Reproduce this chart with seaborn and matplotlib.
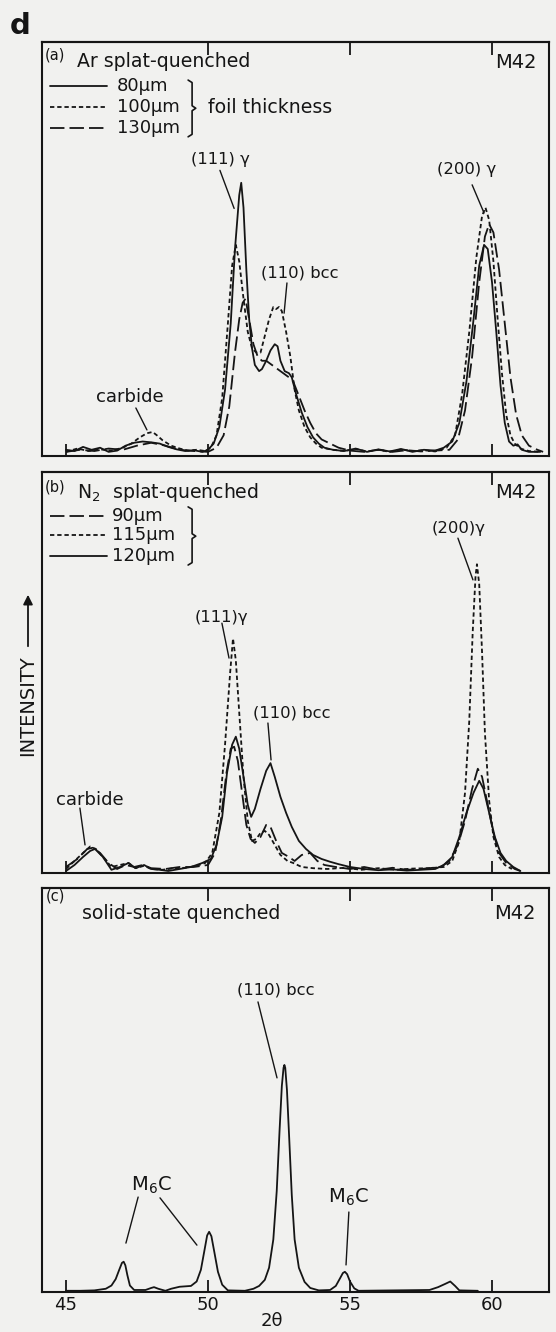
import matplotlib
matplotlib.use("Agg")
import matplotlib.pyplot as plt
from matplotlib.patches import FancyArrowPatch
import pandas as pd
import seaborn as sns

# ---------------- diffraction traces (2-theta in degrees, relative intensity) -------------
# (a) Ar splat-quenched
a80_tt = [45.0, 45.3, 45.6, 45.9, 46.2, 46.5, 46.8, 47.1, 47.4, 47.7, 48.0, 48.3, 48.6, 48.9,
          49.2, 49.5, 49.8, 50.0, 50.2, 50.4, 50.6, 50.8, 50.95, 51.1, 51.17, 51.25, 51.35,
          51.45, 51.55, 51.65, 51.8, 51.9, 52.05, 52.2, 52.35, 52.45, 52.55, 52.7, 52.85,
          52.95, 53.1, 53.3, 53.5, 53.7, 53.9, 54.1, 54.4, 54.8, 55.2, 55.6, 56.0, 56.4, 56.8,
          57.2, 57.6, 58.0, 58.3, 58.6, 58.85, 59.1, 59.35, 59.55, 59.72, 59.85, 60.0, 60.15,
          60.3, 60.45, 60.6, 60.75, 60.9, 61.05, 61.3, 61.7]
a80_i = [1.5, 1.2, 2.2, 1.5, 2.0, 1.0, 1.3, 2.5, 3.2, 3.5, 3.3, 3.0, 2.2, 1.6,
         1.2, 1.4, 1.0, 1.5, 3.0, 7.0, 16, 32, 50, 63, 66, 60, 45,
         33, 26, 22, 20.5, 21, 23, 25.5, 27, 26.5, 23, 20.5, 20,
         19, 15, 10.5, 7, 4.5, 3, 2, 1.5, 1.2, 1.8, 1.0, 1.6, 1.1, 1.7,
         1.0, 1.5, 1.3, 2.0, 3.5, 8, 18, 33, 46, 51, 50, 42, 30,
         17, 8, 3.5, 2.5, 2.8, 1.5, 1.0, 1.0]

a100_tt = [45.0, 45.4, 45.8, 46.2, 46.6, 47.0, 47.3, 47.6, 47.85, 48.05, 48.2, 48.4, 48.7,
           49.0, 49.3, 49.6, 49.9, 50.1, 50.3, 50.5, 50.7, 50.85, 50.98, 51.1, 51.25, 51.4,
           51.55, 51.7, 51.85, 52.0, 52.15, 52.3, 52.4, 52.5, 52.6, 52.75, 52.9, 53.05, 53.2,
           53.4, 53.6, 53.8, 54.0, 54.4, 54.8, 55.2, 55.6, 56.0, 56.4, 56.8, 57.2, 57.6, 58.0,
           58.4, 58.7, 58.95, 59.2, 59.45, 59.65, 59.77, 59.9, 60.05, 60.2, 60.35, 60.5, 60.65,
           60.8, 61.0, 61.3, 61.7]
a100_i = [1.0, 1.8, 1.2, 1.6, 1.3, 2.0, 3.0, 4.5, 5.5, 5.8, 5.0, 3.8, 2.5,
          1.8, 1.3, 1.5, 1.2, 2.0, 5, 14, 32, 46, 51, 47, 38, 30,
          26, 25, 25, 29, 33, 36, 35.5, 36, 35, 30, 24, 16, 11,
          7, 4.5, 3, 2, 1.5, 1.2, 1.7, 1.1, 1.5, 1.0, 1.6, 1.2, 1.4, 1.1,
          2, 5, 15, 30, 48, 58, 60, 57, 47, 33, 20, 10, 5,
          3, 1.8, 1.2, 1.0]

a130_tt = [45.0, 45.5, 46.0, 46.5, 47.0, 47.5, 48.0, 48.5, 49.0, 49.5, 50.0, 50.3, 50.55,
           50.75, 50.95, 51.1, 51.22, 51.32, 51.45, 51.6, 51.75, 51.9, 52.05, 52.25, 52.45,
           52.65, 52.85, 53.0, 53.2, 53.4, 53.6, 53.8, 54.0, 54.3, 54.6, 55.0, 55.5, 56.0,
           56.5, 57.0, 57.5, 58.0, 58.5, 58.8, 59.05, 59.3, 59.55, 59.75, 59.9, 60.05, 60.25,
           60.45, 60.65, 60.85, 61.05, 61.3, 61.6, 61.8]
a130_i = [1.0, 1.5, 1.2, 1.8, 1.5, 2.5, 3.2, 2.5, 1.5, 1.2, 1.0, 2.0, 5,
          12, 25, 33, 37, 38, 33, 27, 24, 23, 23, 22, 21,
          20, 19, 18, 14.5, 11, 8, 5.5, 4, 3, 2, 1.3, 1.0, 1.5,
          1.0, 1.4, 1.1, 1.3, 1.5, 4, 11, 24, 42, 53, 56, 54, 45,
          32, 19, 10, 5, 2.5, 1.5, 1.0]

# (b) N2 splat-quenched
b90_tt = [45.0, 45.4, 45.75, 45.95, 46.2, 46.5, 46.8, 47.1, 47.4, 47.7, 48.0, 48.5, 49.0,
          49.5, 50.0, 50.25, 50.45, 50.65, 50.8, 50.92, 51.05, 51.2, 51.35, 51.5, 51.65,
          51.85, 52.05, 52.2, 52.4, 52.6, 52.85, 53.05, 53.3, 53.6, 53.85, 54.1, 54.5, 55.0,
          55.5, 56.0, 56.5, 57.0, 57.5, 58.2, 58.5, 58.8, 59.05, 59.3, 59.5, 59.65, 59.85,
          60.05, 60.25, 60.5, 60.8, 61.0]
b90_i = [1.5, 3.5, 6.0, 6.3, 5.0, 2.5, 1.0, 2.0, 1.5, 2.0, 1.2, 1.0, 1.5,
         1.5, 2.0, 5, 13, 25, 31, 31.5, 28, 20, 12, 8.5, 7.5,
         9, 12, 11.5, 8, 5, 4, 3, 4.5, 5, 3, 2, 1.5, 1.0,
         1.5, 0.8, 1.3, 0.8, 1.0, 1.5, 3, 7, 13, 21, 26, 24, 17,
         10, 5, 2.5, 1.0, 0.5]

b115_tt = [45.0, 45.3, 45.6, 45.85, 46.05, 46.3, 46.6, 46.9, 47.2, 47.45, 47.75, 48.0, 48.4,
           48.8, 49.2, 49.6, 49.9, 50.15, 50.4, 50.6, 50.78, 50.88, 50.98, 51.1, 51.25, 51.4,
           51.55, 51.7, 51.85, 52.0, 52.15, 52.35, 52.55, 52.8, 53.0, 53.3, 53.7, 54.2, 54.8,
           55.4, 56.0, 56.6, 57.2, 57.8, 58.3, 58.6, 58.85, 59.05, 59.2, 59.32, 59.42, 59.47,
           59.55, 59.65, 59.75, 59.9, 60.05, 60.25, 60.45, 60.7]
b115_i = [1.0, 3.0, 5.0, 6.6, 6.0, 4.0, 1.5, 2.0, 2.5, 1.2, 1.8, 1.0, 0.8,
          1.2, 1.3, 1.8, 2.5, 5, 15, 32, 50, 58.5, 53, 40, 24, 13,
          8, 8.5, 10, 10.5, 9.5, 7, 4.5, 3, 2.5, 1.5, 1.2, 1.0, 1.3,
          0.8, 1.2, 0.8, 1.1, 1.2, 1.5, 3, 8, 20, 38, 60, 74, 77,
          72, 55, 35, 18, 9, 4, 2, 1.0]

b120_tt = [45.0, 45.3, 45.6, 45.85, 46.02, 46.3, 46.6, 46.9, 47.2, 47.45, 47.75, 48.0, 48.3,
           48.6, 49.0, 49.4, 49.8, 50.1, 50.3, 50.5, 50.67, 50.85, 50.98, 51.1, 51.25, 51.4,
           51.52, 51.65, 51.85, 52.05, 52.2, 52.35, 52.55, 52.75, 52.95, 53.2, 53.45, 53.7,
           54.0, 54.3, 54.6, 55.0, 55.5, 56.0, 56.5, 57.0, 57.5, 58.0, 58.3, 58.6, 58.85,
           59.1, 59.35, 59.55, 59.7, 59.9, 60.1, 60.3, 60.5, 60.75, 61.0]
b120_i = [0.5, 2.0, 4.0, 5.5, 6.0, 4.0, 0.8, 1.5, 2.5, 1.2, 2.0, 1.0, 0.8,
          0.5, 1.0, 1.5, 2.5, 3.5, 7, 14, 25, 32, 34, 31, 24, 17,
          14, 16, 21, 25.5, 27.4, 24, 19, 15, 11.5, 8, 6, 4.5,
          3.5, 2.8, 2.2, 1.5, 1.0, 0.7, 0.9, 0.6, 0.8, 1.0, 2.0, 4, 9,
          15, 20, 23, 21, 15, 9, 5, 3, 1.5, 0.5]

# (c) solid-state quenched
c_tt = [45.0, 45.5, 46.0, 46.4, 46.6, 46.75, 46.88, 46.97, 47.03, 47.09, 47.16, 47.25, 47.4,
        47.8, 48.0, 48.1, 48.25, 48.5, 48.7, 49.0, 49.4, 49.6, 49.75, 49.88, 49.97, 50.04,
        50.12, 50.22, 50.35, 50.5, 50.7, 51.3, 51.6, 51.8, 52.0, 52.15, 52.3, 52.42, 52.52,
        52.6, 52.66, 52.69, 52.72, 52.78, 52.86, 52.95, 53.05, 53.2, 53.4, 53.6, 53.9, 54.3,
        54.5, 54.65, 54.75, 54.82, 54.9, 55.0, 55.15, 55.3, 57.8, 58.1, 58.35, 58.53, 58.7,
        58.85, 59.5]
c_i = [0.3, 0.3, 0.4, 0.8, 1.6, 3.2, 5.6, 7.2, 7.5, 6.6, 4.2, 1.6, 0.5,
       0.5, 1.0, 1.2, 0.8, 0.3, 0.8, 1.3, 1.5, 2.6, 5.5, 10.5, 14.0, 14.9,
       13.8, 10.0, 5.0, 1.8, 0.4, 0.3, 0.8, 1.5, 3.0, 6.0, 13, 25, 40,
       51, 55.5, 56.2, 55.5, 50, 38, 24, 13, 6.0, 2.5, 1.0, 0.4, 0.5,
       1.5, 3.4, 4.7, 5.0, 4.4, 2.6, 0.9, 0.3, 0.5, 1.2, 2.0, 2.6, 1.5,
       0.4, 0.3]

a_labels = ["80\u00b5m", "100\u00b5m", "130\u00b5m"]
b_labels = ["90\u00b5m", "115\u00b5m", "120\u00b5m"]
x_ticks = [45, 50, 55, 60]

# ---------------- styling ----------------
INK = "#151515"
PAPER = "#f1f1ef"
SOLID = ""
FINE = (2.4, 1.6)     # short-dash trace
LONG = (8.0, 2.8)     # long-dash trace

sns.set_theme(style="white")
plt.rcParams["font.family"] = ["DejaVu Sans"]
plt.rcParams["axes.edgecolor"] = INK
plt.rcParams["text.color"] = INK

fig = plt.figure(figsize=(5.56, 13.32), dpi=100, facecolor=PAPER)
left, width = 42 / 556, 507 / 556
ax_a = fig.add_axes([left, 1 - 456 / 1332, width, 414 / 1332])
ax_b = fig.add_axes([left, 1 - 873 / 1332, width, 401 / 1332])
ax_c = fig.add_axes([left, 1 - 1292 / 1332, width, 404 / 1332])


def long_form(curves):
    return pd.concat(
        [pd.DataFrame({"two_theta": tt, "intensity": ii, "foil": lab}) for lab, tt, ii in curves],
        ignore_index=True)


def draw_traces(ax, df, dash_map):
    sns.lineplot(data=df, x="two_theta", y="intensity", hue="foil", style="foil",
                 palette={k: INK for k in dash_map}, dashes=dash_map,
                 estimator=None, sort=True, legend=False, lw=1.3, ax=ax)


dash_a = {a_labels[0]: SOLID, a_labels[1]: FINE, a_labels[2]: LONG}
dash_b = {b_labels[0]: LONG, b_labels[1]: FINE, b_labels[2]: SOLID}

draw_traces(ax_a, long_form([(a_labels[0], a80_tt, a80_i),
                             (a_labels[1], a100_tt, a100_i),
                             (a_labels[2], a130_tt, a130_i)]), dash_a)
draw_traces(ax_b, long_form([(b_labels[0], b90_tt, b90_i),
                             (b_labels[1], b115_tt, b115_i),
                             (b_labels[2], b120_tt, b120_i)]), dash_b)
sns.lineplot(x=c_tt, y=c_i, color=INK, lw=1.3, estimator=None, sort=True, ax=ax_c)

for ax in (ax_a, ax_b, ax_c):
    ax.set_facecolor(PAPER)
    ax.set_xlim(44.155, 62.007)
    ax.set_ylim(0, 100)
    ax.set_yticks([])
    ax.set_xticks(x_ticks)
    ax.set_xlabel("")
    ax.set_ylabel("")
    for s in ax.spines.values():
        s.set_linewidth(1.5)
        s.set_color(INK)
    ax.tick_params(axis="x", direction="in", length=9, width=1.3, color=INK,
                   bottom=True, top=False, labelbottom=False, labelsize=13, pad=3)
    top = ax.secondary_xaxis("top")
    top.set_xticks(x_ticks[1:])
    top.tick_params(direction="in", length=9, width=1.3, color=INK, labeltop=False)
    top.spines["top"].set_linewidth(1.5)

ax_c.tick_params(axis="x", labelbottom=True, labelcolor=INK)

TITLE = 13.6
LEG = 13.0
PEAK = 11.8


def leader(ax, x0, y0, x1, y1):
    ax.plot([x0, x1], [y0, y1], color=INK, lw=1.0)


def legend_block(ax, rows, ys, text_x, brace_y):
    for (lab, dash), y in zip(rows, ys):
        ls = "-" if dash == "" else (0, dash)
        ax.plot([44.42, 46.45], [y, y], color=INK, lw=1.3, linestyle=ls)
        ax.text(text_x, y, lab, fontsize=LEG, ha="left", va="center")
    top_y, mid_y, bot_y = brace_y
    ax.plot([49.30, 49.44, 49.44, 49.57, 49.44, 49.44, 49.30],
            [top_y, top_y - 0.6, mid_y + 0.6, mid_y, mid_y - 0.6, bot_y + 0.6, bot_y],
            color=INK, lw=1.2)


# panel (a)
ax_a.text(44.26, 96.8, "(a)", fontsize=10.5, ha="left", va="center")
ax_a.text(45.37, 95.2, "Ar splat-quenched", fontsize=TITLE, ha="left", va="center")
ax_a.text(60.85, 95.0, "M42", fontsize=14, ha="center", va="center")
legend_block(ax_a, [(a_labels[0], SOLID), (a_labels[1], FINE), (a_labels[2], LONG)],
             [89.4, 84.3, 79.2], 46.80, (90.8, 84.0, 77.1))
ax_a.text(50.0, 84.1, "foil thickness", fontsize=TITLE, ha="left", va="center")
ax_a.text(50.45, 71.5, "(111) \u03b3", fontsize=PEAK, ha="center", va="center")
leader(ax_a, 50.42, 69.0, 50.92, 59.8)
ax_a.text(59.12, 69.1, "(200) \u03b3", fontsize=PEAK, ha="center", va="center")
leader(ax_a, 59.30, 65.5, 59.72, 58.7)
ax_a.text(53.25, 44.2, "(110) bcc", fontsize=PEAK, ha="center", va="center")
leader(ax_a, 52.78, 41.8, 52.68, 34.5)
ax_a.text(47.25, 14.3, "carbide", fontsize=13, ha="center", va="center")
leader(ax_a, 47.46, 11.6, 47.85, 6.3)

# panel (b)
ax_b.text(44.26, 96.3, "(b)", fontsize=10.5, ha="left", va="center")
ax_b.text(45.40, 94.8, "N$_2$  splat-quenched", fontsize=TITLE, ha="left", va="center")
ax_b.text(60.85, 94.8, "M42", fontsize=14, ha="center", va="center")
legend_block(ax_b, [(b_labels[0], LONG), (b_labels[1], FINE), (b_labels[2], SOLID)],
             [89.0, 84.3, 79.1], 46.62, (91.3, 84.0, 76.8))
ax_b.text(58.84, 86.0, "(200)\u03b3", fontsize=PEAK, ha="center", va="center")
leader(ax_b, 58.80, 83.5, 59.33, 73.1)
ax_b.text(50.46, 63.8, "(111)\u03b3", fontsize=PEAK, ha="center", va="center")
leader(ax_b, 50.49, 62.3, 50.74, 53.6)
ax_b.text(52.96, 39.9, "(110) bcc", fontsize=PEAK, ha="center", va="center")
leader(ax_b, 52.11, 37.4, 52.22, 28.2)
ax_b.text(45.85, 18.2, "carbide", fontsize=13, ha="center", va="center")
leader(ax_b, 45.49, 16.2, 45.67, 7.0)

# panel (c)
ax_c.text(44.28, 98.0, "(c)", fontsize=10.5, ha="left", va="center")
ax_c.text(45.58, 93.8, "solid-state quenched", fontsize=TITLE, ha="left", va="center")
ax_c.text(60.81, 93.8, "M42", fontsize=14, ha="center", va="center")
ax_c.text(52.39, 74.8, "(110) bcc", fontsize=PEAK, ha="center", va="center")
leader(ax_c, 51.76, 71.8, 52.43, 53.0)
ax_c.text(47.99, 26.5, "M$_6$C", fontsize=14, ha="center", va="center")
leader(ax_c, 47.54, 23.5, 47.11, 12.1)
leader(ax_c, 48.31, 23.3, 49.61, 11.6)
ax_c.text(54.93, 23.5, "M$_6$C", fontsize=14, ha="center", va="center")
leader(ax_c, 54.96, 19.8, 54.86, 6.7)

# figure-level labels
fig.text(10 / 556, 1 - 26 / 1332, "d", fontsize=21, fontweight="bold", ha="left", va="center")
fig.text(272 / 556, 1 - 1321 / 1332, "2\u03b8", fontsize=13, ha="center", va="center")
fig.text(28 / 556, 1 - 706 / 1332, "INTENSITY", fontsize=14, rotation=90,
         ha="center", va="center")
fig.add_artist(FancyArrowPatch((28 / 556, 1 - 649 / 1332), (28 / 556, 1 - 592 / 1332),
                               transform=fig.transFigure, arrowstyle="-|>",
                               mutation_scale=14, lw=1.3, color=INK))

fig.savefig("out.png", dpi=100, facecolor=PAPER)
